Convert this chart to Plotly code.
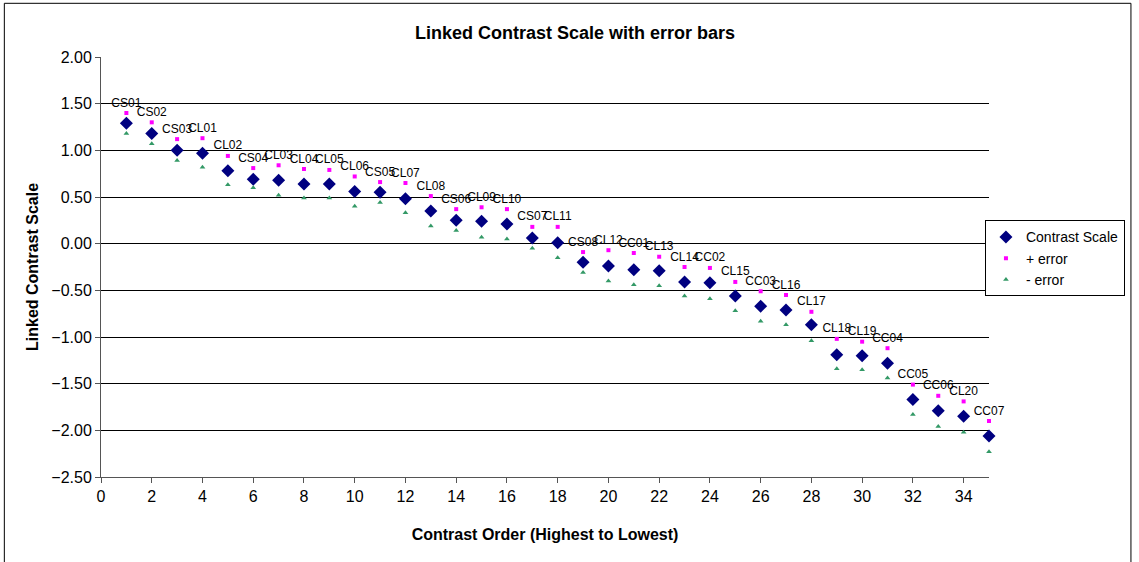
import plotly.graph_objects as go

# contrast order (x), codes, and values
order = list(range(1, 36))
codes = ["CS01", "CS02", "CS03", "CL01", "CL02", "CS04", "CL03", "CL04", "CL05",
         "CL06", "CS05", "CL07", "CL08", "CS06", "CL09", "CL10", "CS07", "CL11",
         "CS08", "CL12", "CC01", "CL13", "CL14", "CC02", "CL15", "CC03", "CL16",
         "CL17", "CL18", "CL19", "CC04", "CC05", "CC06", "CL20", "CC07"]
contrast = [1.29, 1.18, 1.00, 0.97, 0.78, 0.69, 0.68, 0.64, 0.64,
            0.56, 0.55, 0.48, 0.35, 0.25, 0.24, 0.21, 0.06, 0.01,
            -0.20, -0.24, -0.28, -0.29, -0.41, -0.42, -0.56, -0.67, -0.71,
            -0.87, -1.19, -1.20, -1.28, -1.67, -1.79, -1.85, -2.06]
plus_err = [1.40, 1.30, 1.12, 1.13, 0.94, 0.81, 0.84, 0.80, 0.79,
            0.72, 0.66, 0.65, 0.51, 0.37, 0.39, 0.37, 0.18, 0.18,
            -0.09, -0.07, -0.10, -0.14, -0.25, -0.26, -0.41, -0.51, -0.55,
            -0.73, -1.02, -1.05, -1.12, -1.51, -1.63, -1.69, -1.90]
minus_err = [1.18, 1.07, 0.89, 0.82, 0.63, 0.60, 0.52, 0.49, 0.49,
             0.40, 0.44, 0.33, 0.19, 0.14, 0.07, 0.05, -0.05, -0.15,
             -0.31, -0.40, -0.44, -0.45, -0.56, -0.59, -0.72, -0.83, -0.87,
             -1.04, -1.34, -1.35, -1.44, -1.83, -1.96, -2.02, -2.23]

FONT = "Liberation Sans, Arial, sans-serif"

fig = go.Figure()
fig.add_trace(go.Scatter(
    x=order, y=contrast, mode="markers", name="Contrast Scale",
    marker=dict(symbol="diamond", size=10, color="#000080"),
    cliponaxis=False,
))
fig.add_trace(go.Scatter(
    x=order, y=plus_err, mode="markers+text", name="+ error",
    text=codes, textposition="top center",
    textfont=dict(size=12, color="black", family=FONT),
    marker=dict(symbol="square", size=4, color="#FF00FF"),
    cliponaxis=False,
))
fig.add_trace(go.Scatter(
    x=order, y=minus_err, mode="markers", name="- error",
    marker=dict(symbol="triangle-up", size=5, color="#339966"),
    cliponaxis=False,
))

fig.update_layout(
    width=1139, height=562,
    margin=dict(l=101, r=150, t=57, b=85, autoexpand=False),
    plot_bgcolor="white", paper_bgcolor="white",
    font=dict(family=FONT, color="black"),
    title=dict(
        text="<b>Linked Contrast Scale with error bars</b>",
        font=dict(size=18, family=FONT),
        x=575 / 1139, xanchor="center", xref="container",
        y=1 - 33 / 562, yanchor="middle", yref="container",
    ),
    xaxis=dict(
        range=[0, 35], dtick=2, tick0=0,
        showgrid=False, zeroline=False,
        showline=True, linecolor="#555", linewidth=1,
        ticks="outside", ticklen=5, tickcolor="#555",
        tickfont=dict(size=16),
        title=dict(text="<b>Contrast Order (Highest to Lowest)</b>",
                   font=dict(size=16), standoff=24),
    ),
    yaxis=dict(
        range=[-2.5, 2.0], dtick=0.5, tick0=0, tickformat=".2f",
        showgrid=True, gridcolor="black", gridwidth=1,
        zeroline=False,
        showline=True, linecolor="#555", linewidth=1,
        ticks="outside", ticklen=5, tickcolor="#555",
        tickfont=dict(size=16),
        title=dict(text="<b>Linked Contrast Scale</b>",
                   font=dict(size=16), standoff=8),
    ),
    legend=dict(
        x=(1125 - 100.7) / 888.3, xanchor="right", y=0.611, yanchor="top",
        bordercolor="black", borderwidth=1, bgcolor="white",
        font=dict(size=14), itemwidth=30, tracegroupgap=0,
    ),
    shapes=[dict(
        type="rect", xref="paper", yref="paper",
        x0=(4 - 100.7) / 888.3, x1=(1131 - 100.7) / 888.3,
        y0=(476.7 - 566) / 420, y1=(476.7 - 3) / 420,
        line=dict(color="black", width=1), layer="below",
    )],
)

# drop the default page margin so the chart sits at the window's corner
fig.write_html("out.html", config={"displayModeBar": False},
               post_script="document.body.style.margin='0';")
